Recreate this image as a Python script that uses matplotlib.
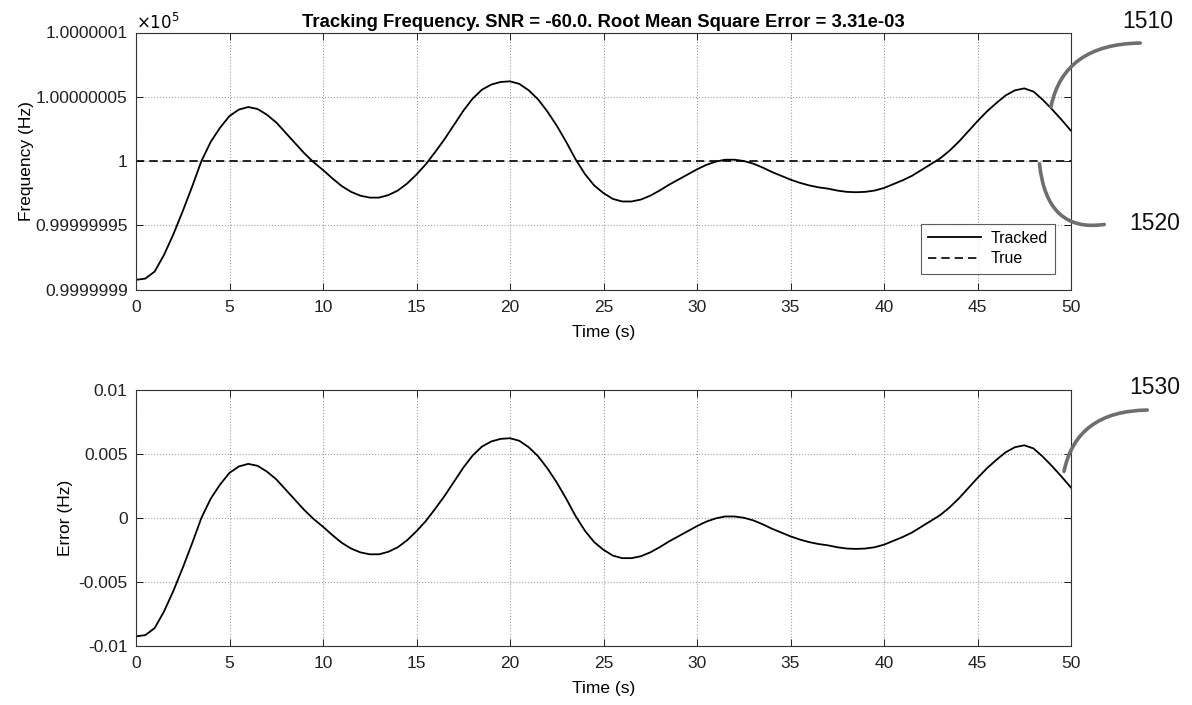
import numpy as np
import matplotlib
matplotlib.use("Agg")
import matplotlib.pyplot as plt

plt.rcParams['font.family'] = ['Liberation Sans', 'DejaVu Sans']

# ---- data ----
time_s = np.arange(0, 50.01, 0.5)
error_mhz = [  # error in units of 1e-3 Hz, sampled every 0.5 s
    -9.25, -9.15, -8.6, -7.3, -5.7, -3.9, -2.0, 0.0, 1.5, 2.6,
    3.5, 4.0, 4.2, 4.05, 3.6, 3.0, 2.2, 1.4, 0.6, -0.1,
    -0.7, -1.35, -1.95, -2.4, -2.7, -2.85, -2.85, -2.65, -2.3, -1.75,
    -1.05, -0.25, 0.7, 1.7, 2.8, 3.9, 4.85, 5.55, 5.95, 6.15,
    6.2, 6.0, 5.5, 4.8, 3.85, 2.75, 1.5, 0.15, -1.0, -1.9,
    -2.5, -2.95, -3.15, -3.15, -3.0, -2.7, -2.3, -1.85, -1.45, -1.05,
    -0.65, -0.3, -0.05, 0.1, 0.1, 0.0, -0.2, -0.5, -0.85, -1.15,
    -1.45, -1.7, -1.9, -2.05, -2.15, -2.3, -2.4, -2.43, -2.4, -2.3,
    -2.1, -1.8, -1.5, -1.15, -0.7, -0.25, 0.2, 0.8, 1.5, 2.3,
    3.1, 3.85, 4.5, 5.1, 5.5, 5.65, 5.4, 4.75, 4.0, 3.2,
    2.35,
]
true_freq_hz = 1e5
freq_scale = 1e5
title = "Tracking Frequency. SNR = -60.0. Root Mean Square Error = 3.31e-03"
x_ticks = [0, 5, 10, 15, 20, 25, 30, 35, 40, 45, 50]
top_ytick_vals = [0.9999999, 0.99999995, 1.0, 1.00000005, 1.0000001]
top_ytick_labels = ["0.9999999", "0.99999995", "1", "1.00000005", "1.0000001"]
err_ytick_vals = [-0.01, -0.005, 0, 0.005, 0.01]
err_ytick_labels = ["-0.01", "-0.005", "0", "0.005", "0.01"]
legend_labels = ["Tracked", "True"]
ref_labels = ["1510", "1520", "1530"]

err = np.array(error_mhz) * 1e-3
tracked = (true_freq_hz + err) / freq_scale
true_line = np.full_like(tracked, true_freq_hz / freq_scale)

W, H = 1192, 705
fig = plt.figure(figsize=(W / 100, H / 100), dpi=100)
ax1 = fig.add_axes([136 / W, 1 - 289.5 / H, 935 / W, 257 / H])
ax2 = fig.add_axes([136 / W, 1 - 646 / H, 935 / W, 256.5 / H])

grid_kw = dict(color='#a0a0a0', linestyle=':', linewidth=0.8)
for ax in (ax1, ax2):
    ax.set_xlim(0, 50)
    ax.set_xticks(x_ticks)
    ax.set_xticklabels([str(v) for v in x_ticks])
    ax.grid(True, **grid_kw)
    ax.tick_params(direction='in', top=True, right=True, labelsize=12.5,
                   length=5, width=0.7, colors='#222222')
    ax.tick_params(axis='x', pad=7.5)
    ax.tick_params(axis='y', pad=6)
    for s in ax.spines.values():
        s.set_color('#333333')
        s.set_linewidth(0.8)
    ax.set_xlabel("Time (s)", fontsize=12.5, labelpad=7)

l1, = ax1.plot(time_s, tracked, color='black', lw=1.3, label=legend_labels[0])
l2, = ax1.plot(time_s, true_line, color='black', lw=1.2, ls=(0, (5, 3)),
               label=legend_labels[1])
ax1.set_ylim(top_ytick_vals[0], top_ytick_vals[-1])
ax1.set_yticks(top_ytick_vals)
ax1.set_yticklabels(top_ytick_labels)
ax1.set_ylabel("Frequency (Hz)", fontsize=12.5, labelpad=1)
ax1.set_title(title, fontsize=13.3, fontweight='bold', pad=4)
ax1.text(0.0, 1.003, r"$\times10^{5}$", transform=ax1.transAxes,
         fontsize=12, ha='left', va='bottom')
leg = ax1.legend(loc='lower right', fontsize=11.5, frameon=True, fancybox=False,
                 edgecolor='#333333', borderaxespad=1.0, handlelength=3.3,
                 borderpad=0.45, labelspacing=0.35, handletextpad=0.6)
leg.get_frame().set_linewidth(0.8)

ax2.plot(time_s, err, color='black', lw=1.3)
ax2.set_ylim(-0.01, 0.01)
ax2.set_yticks(err_ytick_vals)
ax2.set_yticklabels(err_ytick_labels)
ax2.set_ylabel("Error (Hz)", fontsize=12.5, labelpad=4)

# reference numerals with leader lines (patent-style annotations)
def fig_px(x, y):
    return (x / W, 1 - y / H)

lead_kw = dict(arrowstyle='-', color='#6e6e6e', lw=2.6)
ax1.annotate("", xy=(48.9, tracked[98]), xycoords='data',
             xytext=fig_px(1143, 43), textcoords='figure fraction',
             arrowprops=dict(connectionstyle="angle3,angleA=0,angleB=80", **lead_kw))
ax1.annotate("", xy=(48.3, 1.0), xycoords='data',
             xytext=fig_px(1107, 224), textcoords='figure fraction',
             arrowprops=dict(connectionstyle="angle3,angleA=10,angleB=95", **lead_kw))
ax2.annotate("", xy=(49.6, err[99] + 0.0002), xycoords='data',
             xytext=fig_px(1150, 410), textcoords='figure fraction',
             arrowprops=dict(connectionstyle="angle3,angleA=0,angleB=80", **lead_kw))
for lab, (px, py) in zip(ref_labels, [(1148, 22), (1155, 223), (1155, 387)]):
    fig.text(*fig_px(px, py), lab, fontsize=16.5, ha='center', va='center', color='#111111')

fig.savefig("out.png", dpi=100)
